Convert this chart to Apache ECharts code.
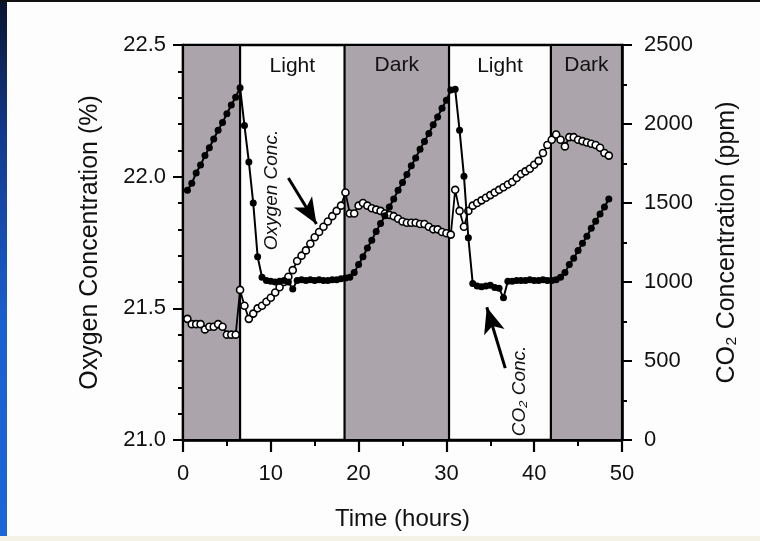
<!DOCTYPE html>
<html>
<head>
<meta charset="utf-8">
<script src="https://cdn.jsdelivr.net/npm/echarts@6/dist/echarts.min.js"></script>
<style>
  html, body { margin: 0; padding: 0; background: #fdfdfd; }
  #wrap { position: relative; width: 760px; height: 541px; overflow: hidden; background: #fdfdfd; }
  #chart { position: absolute; left: 0; top: 0; width: 760px; height: 541px; }
  #leftbar { position: absolute; left: 0; top: 0; width: 7px; height: 541px;
    background: linear-gradient(to bottom, #0a1430 0%, #123a8c 25%, #1a5fd0 60%, #1c66d8 100%); z-index: 2; }
  #topbar { position: absolute; left: 0; top: 0; width: 760px; height: 2px; background: #111; z-index: 2; }
  #botbar { position: absolute; left: 0; top: 536px; width: 760px; height: 5px; background: #f4f2e6; z-index: 2; }
</style>
</head>
<body>
<div id="wrap">
  <div id="chart"></div>
  <div id="leftbar"></div>
  <div id="topbar"></div>
  <div id="botbar"></div>
</div>
<script>
// ---- data ----
const hours = [0.5,1,1.5,2,2.5,3,3.5,4,4.5,5,5.5,6,6.5,
  7,7.5,8,8.5,9,9.5,10,10.5,11,11.5,12,12.5,13,13.5,14,14.5,15,15.5,16,16.5,17,17.5,18,18.5,
  19,19.5,20,20.5,21,21.5,22,22.5,23,23.5,24,24.5,25,25.5,26,26.5,27,27.5,28,28.5,29,29.5,30,30.5,
  31,31.5,32,32.5,33,33.5,34,34.5,35,35.5,36,36.5,37,37.5,38,38.5,39,39.5,40,40.5,41,41.5,42,42.5,
  43,43.5,44,44.5,45,45.5,46,46.5,47,47.5,48,48.5];

const oxygen = [21.46,21.44,21.44,21.44,21.42,21.43,21.43,21.44,21.43,21.40,21.40,21.40,21.57,
  21.51,21.46,21.48,21.50,21.51,21.525,21.54,21.56,21.58,21.60,21.62,21.645,21.68,21.70,21.72,21.745,21.77,21.79,21.81,21.83,21.85,21.87,21.89,21.94,
  21.86,21.86,21.89,21.90,21.89,21.88,21.875,21.87,21.86,21.855,21.85,21.84,21.83,21.825,21.825,21.825,21.82,21.82,21.81,21.80,21.80,21.79,21.785,21.78,
  21.95,21.87,21.81,21.87,21.89,21.90,21.91,21.92,21.93,21.94,21.95,21.96,21.97,21.98,21.995,22.01,22.02,22.03,22.045,22.06,22.09,22.12,22.14,22.16,
  22.14,22.115,22.15,22.15,22.14,22.135,22.13,22.125,22.12,22.11,22.09,22.08];

const co2 = [1580,1625,1690,1740,1800,1850,1905,1960,2010,2065,2120,2170,2230,
  1990,1760,1500,1160,1030,1010,1005,1000,1005,1010,1000,955,1010,1015,1010,1015,1010,1015,1010,1010,1015,1015,1020,1025,
  1030,1060,1110,1160,1215,1265,1320,1370,1420,1475,1525,1580,1630,1680,1735,1785,1840,1890,1940,1995,2045,2100,2150,2215,
  2220,1960,1670,1280,990,975,970,975,980,965,960,900,1005,1005,1010,1010,1010,1015,1010,1010,1015,1010,1010,1015,
  1030,1060,1110,1150,1200,1245,1290,1340,1385,1430,1475,1525];

const periodStart = [0, 6.5, 18.4, 30.3, 41.9];
const periodEnd   = [6.5, 18.4, 30.3, 41.9, 50];
const periodLabel = ['', 'Light', 'Dark', 'Light', 'Dark'];
const periodDark  = [true, false, true, false, true];

const xTicks = [0, 10, 20, 30, 40, 50];
const o2Ticks = [21.0, 21.5, 22.0, 22.5];
const co2Ticks = [0, 500, 1000, 1500, 2000, 2500];

// annotation arrows in data coordinates: [time, value]
const o2ArrowFrom = [12.0, 21.995], o2ArrowTo = [15.2, 21.82];
const co2ArrowFrom = [36.7, 455], co2ArrowTo = [34.6, 840];

// ---- chart ----
const FONT = '"Liberation Sans", Arial, Helvetica, sans-serif';
const chart = echarts.init(document.getElementById('chart'), null, { renderer: 'canvas' });

const areaData = periodStart.map((s, i) => [
  {
    xAxis: s,
    name: periodLabel[i],
    itemStyle: periodDark[i]
      ? { color: '#aba5ab', borderColor: '#000', borderWidth: 2.2 }
      : { color: 'rgba(0,0,0,0)', borderWidth: 0 }
  },
  { xAxis: periodEnd[i] }
]);

const axisCommon = {
  axisLine: { show: true, lineStyle: { color: '#000', width: 2.5 } },
  axisTick: { show: true, inside: false, length: 10, lineStyle: { color: '#000', width: 2 } },
  minorTick: { show: true, length: 5, lineStyle: { color: '#000', width: 2 } },
  splitLine: { show: false },
  axisLabel: { color: '#111', fontFamily: FONT, fontSize: 22 },
  nameTextStyle: { color: '#111', fontFamily: FONT, fontSize: 25 }
};

chart.setOption({
  animation: false,
  backgroundColor: 'transparent',
  grid: { left: 183, right: 138, top: 45, bottom: 101, show: true, borderColor: '#000', borderWidth: 2.5, backgroundColor: 'transparent' },
  xAxis: Object.assign({}, axisCommon, {
    type: 'value', min: xTicks[0], max: xTicks[xTicks.length - 1], interval: 10,
    minorTick: { show: true, splitNumber: 2, length: 6, lineStyle: { color: '#000', width: 2 } },
    axisTick: { show: true, inside: false, length: 12, lineStyle: { color: '#000', width: 2.2 } },
    axisLabel: { color: '#111', fontFamily: FONT, fontSize: 22, margin: 23, formatter: v => String(v) },
    name: 'Time (hours)', nameLocation: 'middle', nameGap: 67,
    nameTextStyle: { color: '#111', fontFamily: FONT, fontSize: 24 }
  }),
  yAxis: [
    Object.assign({}, axisCommon, {
      type: 'value', position: 'left', min: o2Ticks[0], max: o2Ticks[o2Ticks.length - 1], interval: 0.5,
      minorTick: { show: true, splitNumber: 5, length: 5, lineStyle: { color: '#000', width: 2 } },
      axisLabel: { color: '#111', fontFamily: FONT, fontSize: 22, margin: 17, formatter: v => v.toFixed(1) },
      name: 'Oxygen Concentration (%)', nameLocation: 'middle', nameGap: 80
    }),
    Object.assign({}, axisCommon, {
      type: 'value', position: 'right', min: co2Ticks[0], max: co2Ticks[co2Ticks.length - 1], interval: 500,
      minorTick: { show: true, splitNumber: 2, length: 5, lineStyle: { color: '#000', width: 2 } },
      axisLabel: { color: '#111', fontFamily: FONT, fontSize: 22, margin: 22, formatter: v => String(v) },
      name: 'CO\u2082 Concentration (ppm)', nameLocation: 'middle', nameGap: 93
    })
  ],
  series: [
    {
      name: 'periods', type: 'line', data: [], yAxisIndex: 0, silent: true,
      markArea: {
        silent: true,
        label: { show: true, position: 'insideTop', distance: 11, color: '#111', fontFamily: FONT, fontSize: 21 },
        data: areaData
      }
    },
    {
      name: 'Oxygen Conc.', type: 'line', yAxisIndex: 0,
      data: hours.map((h, i) => [h, oxygen[i]]),
      symbol: 'circle', symbolSize: 7,
      itemStyle: { color: '#ffffff', borderColor: '#000', borderWidth: 1.6 },
      lineStyle: { color: '#000', width: 1.8 },
      z: 4,
      markLine: {
        silent: true, symbol: ['none', 'arrow'], symbolSize: [16, 26], label: { show: false },
        lineStyle: { color: '#000', width: 3, type: 'solid' },
        data: [[{ coord: o2ArrowFrom }, { coord: o2ArrowTo }]]
      }
    },
    {
      name: 'CO2 Conc.', type: 'line', yAxisIndex: 1,
      data: hours.map((h, i) => [h, co2[i]]),
      symbol: 'circle', symbolSize: 7,
      itemStyle: { color: '#000', borderColor: '#000', borderWidth: 0 },
      lineStyle: { color: '#000', width: 2 },
      z: 5,
      markLine: {
        silent: true, symbol: ['none', 'arrow'], symbolSize: [16, 26], label: { show: false },
        lineStyle: { color: '#000', width: 3, type: 'solid' },
        data: [[{ coord: co2ArrowFrom }, { coord: co2ArrowTo }]]
      }
    }
  ],
  graphic: [
    {
      type: 'text', x: 272, y: 190, rotation: Math.PI / 2, z: 10,
      style: { text: 'Oxygen Conc.', fontFamily: FONT, fontStyle: 'italic', fontSize: 19, fill: '#111', align: 'center', verticalAlign: 'middle' }
    },
    {
      type: 'text', x: 520, y: 391, rotation: Math.PI / 2, z: 10,
      style: { text: 'CO\u2082 Conc.', fontFamily: FONT, fontStyle: 'italic', fontSize: 19, fill: '#111', align: 'center', verticalAlign: 'middle' }
    }
  ]
});
</script>
</body>
</html>
